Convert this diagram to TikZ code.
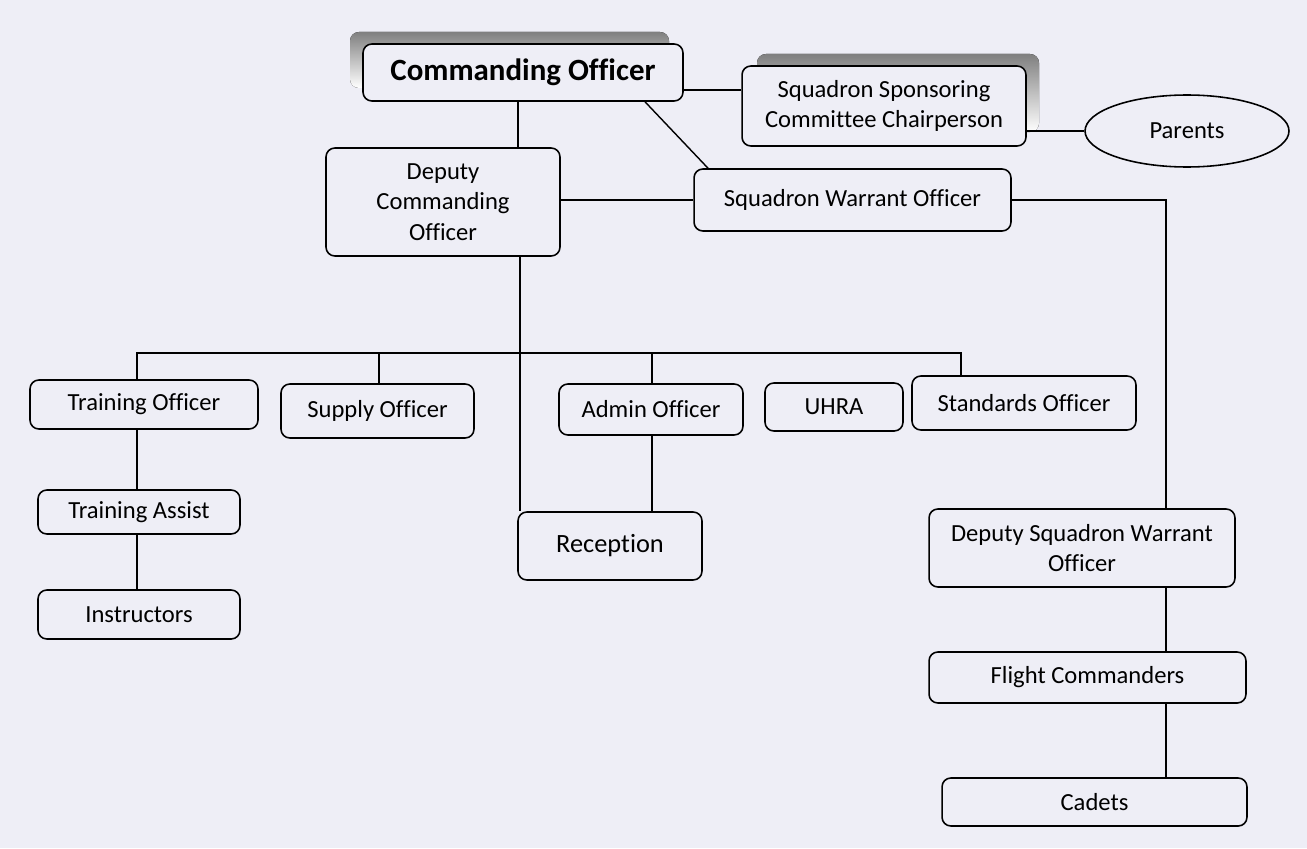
\documentclass[tikz,border=0pt]{standalone}
\usepackage{fontspec}
\setmainfont{Carlito}[Ligatures={NoCommon}]
\usetikzlibrary{shapes.geometric}
\definecolor{paper}{RGB}{238,238,246}
\definecolor{shade}{RGB}{152,152,152}
\tikzset{
  unit/.style={draw, rounded corners=5pt, line width=0.9pt, fill=paper, align=center,
    inner sep=0pt, font=\fontsize{14}{17.5}\selectfont},
  link/.style={line width=0.8pt},
}
\begin{document}
\begin{tikzpicture}[x=0.02cm, y=-0.02cm]
  \fill[paper] (0,0) rectangle (1307,848);
  \useasboundingbox (0,0) rectangle (1307,848);

  % shadows of the two top boxes
  \fill[shade, rounded corners=5pt] (350,32) rectangle (669,88);
  \fill[shade, rounded corners=5pt] (757,54) rectangle (1039,132);

  % top level
  \node[unit, minimum width=6.4cm, minimum height=1.14cm,
        font=\bfseries\fontsize{17.6}{20}\selectfont] (co) at (523,72.5) {Commanding Officer};
  \node[unit, minimum width=5.68cm, minimum height=1.6cm] (sscc) at (884,106)
        {Squadron Sponsoring\\Committee Chairperson};
  \node[draw, ellipse, line width=0.9pt, inner sep=0pt, minimum width=4.08cm, minimum height=1.44cm,
        font=\fontsize{14}{17.5}\selectfont] (par) at (1187,131) {Parents};
  \node[unit, minimum width=4.68cm, minimum height=2.16cm] (dco) at (443,202)
        {Deputy\\Commanding\\Officer};
  \node[unit, minimum width=6.34cm, minimum height=1.24cm] (swo) at (852.5,200)
        {Squadron Warrant Officer};

  % officers
  \node[unit, minimum width=4.56cm, minimum height=0.98cm] (to) at (144,404.5) {Training Officer};
  \node[unit, minimum width=3.86cm, minimum height=1.08cm] (sup) at (377.5,411) {Supply Officer};
  \node[unit, minimum width=3.68cm, minimum height=1.02cm] (adm) at (651,409.5) {Admin Officer};
  \node[unit, minimum width=2.76cm, minimum height=0.96cm] (uhra) at (834,407) {UHRA};
  \node[unit, minimum width=4.48cm, minimum height=1.08cm] (std) at (1024,403) {Standards Officer};

  % lower boxes
  \node[unit, minimum width=4.04cm, minimum height=0.88cm] (ta) at (139,512) {Training Assist};
  \node[unit, minimum width=4.04cm, minimum height=0.98cm] (ins) at (139,614.5) {Instructors};
  \node[unit, minimum width=3.68cm, minimum height=1.36cm,
        font=\fontsize{15}{18}\selectfont] (rec) at (610,546) {Reception};
  \node[unit, minimum width=6.12cm, minimum height=1.56cm] (dswo) at (1082,548)
        {Deputy Squadron Warrant\\Officer};
  \node[unit, minimum width=6.34cm, minimum height=1.02cm] (flt) at (1087.5,677.5) {Flight Commanders};
  \node[unit, minimum width=6.1cm, minimum height=0.96cm] (cad) at (1094.5,802) {Cadets};

  % where the connectors run
  \coordinate (coX) at (518,0);
  \coordinate (diagA) at (645,0);
  \coordinate (diagB) at (708,0);
  \coordinate (topY) at (0,90);
  \coordinate (dcoX) at (520,0);
  \coordinate (busL) at (137,353);
  \coordinate (busR) at (961,353);
  \coordinate (supX) at (379,353);
  \coordinate (admX) at (652,353);
  \coordinate (wX) at (1166,0);

  \draw[link] (co.south -| coX) -- (dco.north -| coX);
  \draw[link] (co.south -| diagA) -- (swo.north -| diagB);
  \draw[link] (co.east |- topY) -- (sscc.west |- topY);
  \draw[link] (sscc.east |- par.west) -- (par.west);
  \draw[link] (dco.east |- swo.west) -- (swo.west);
  \draw[link] (swo.east) -| (dswo.north -| wX);
  \draw[link] (dco.south -| dcoX) -- (rec.north -| dcoX);

  \draw[link] (to.north -| busL) |- (busR) -- (std.north -| busR);
  \draw[link] (supX) -- (sup.north -| supX);
  \draw[link] (admX) -- (adm.north -| admX);
  \draw[link] (adm.south -| admX) -- (rec.north -| admX);
  \draw[link] (to.south -| busL) -- (ta.north -| busL);
  \draw[link] (ta.south -| busL) -- (ins.north -| busL);
  \draw[link] (dswo.south -| wX) -- (flt.north -| wX);
  \draw[link] (flt.south -| wX) -- (cad.north -| wX);
\end{tikzpicture}
\end{document}
